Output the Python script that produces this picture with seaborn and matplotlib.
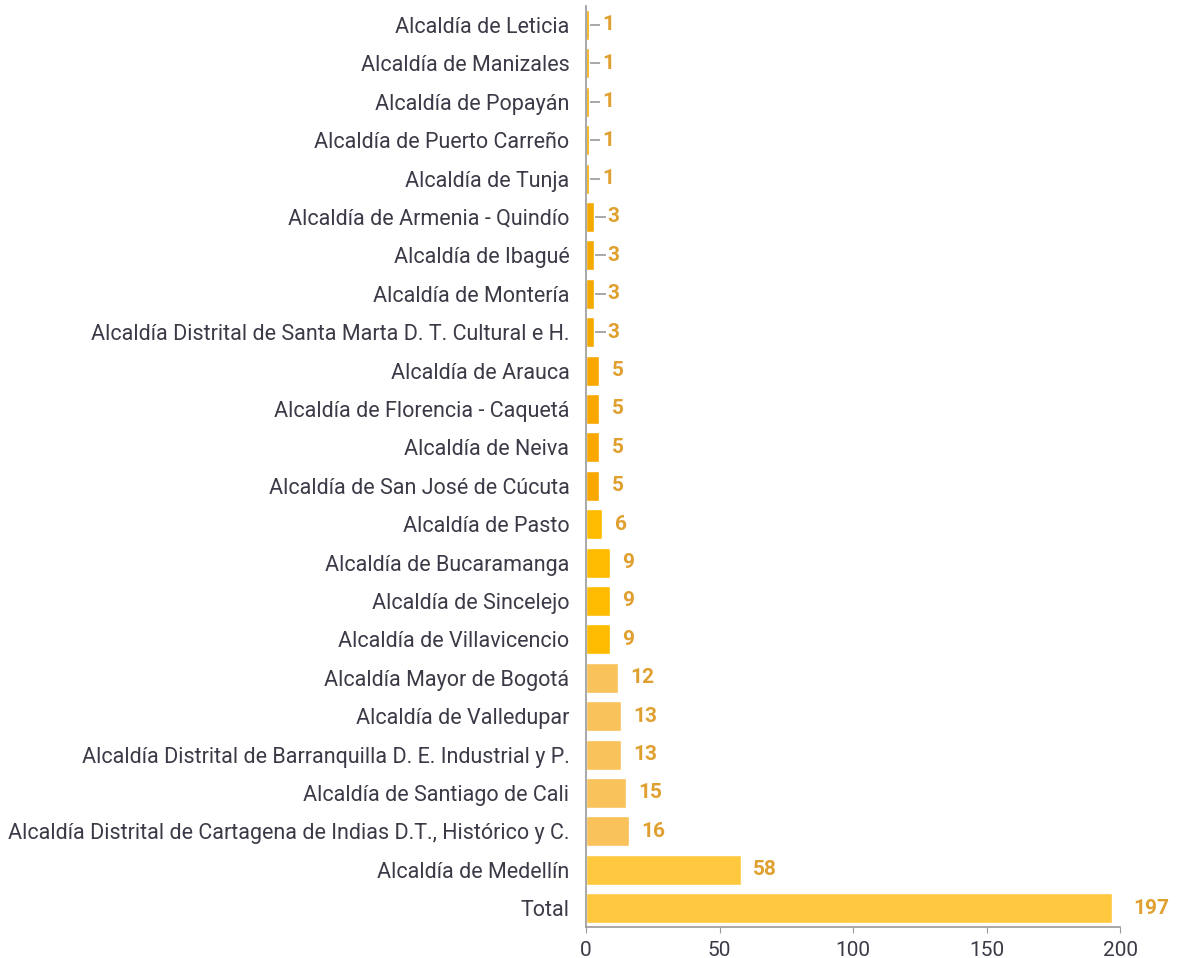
import numpy as np
import pandas as pd
import matplotlib
matplotlib.use("Agg")
import matplotlib.pyplot as plt
import seaborn as sns

# =========================
# DATA
# =========================
entities = [
    "Alcaldía de Leticia",
    "Alcaldía de Manizales",
    "Alcaldía de Popayán",
    "Alcaldía de Puerto Carreño",
    "Alcaldía de Tunja",
    "Alcaldía de Armenia - Quindío",
    "Alcaldía de Ibagué",
    "Alcaldía de Montería",
    "Alcaldía Distrital de Santa Marta D. T. Cultural e H.",
    "Alcaldía de Arauca",
    "Alcaldía de Florencia - Caquetá",
    "Alcaldía de Neiva",
    "Alcaldía de San José de Cúcuta",
    "Alcaldía de Pasto",
    "Alcaldía de Bucaramanga",
    "Alcaldía de Sincelejo",
    "Alcaldía de Villavicencio",
    "Alcaldía Mayor de Bogotá",
    "Alcaldía de Valledupar",
    "Alcaldía Distrital de Barranquilla D. E. Industrial y P.",
    "Alcaldía de Santiago de Cali",
    "Alcaldía Distrital de Cartagena de Indias D.T., Histórico y C.",
    "Alcaldía de Medellín",
    "Total",
]
counts = [1, 1, 1, 1, 1, 3, 3, 3, 3, 5, 5, 5, 5, 6, 9, 9, 9, 12, 13, 13, 15, 16, 58, 197]

# colour groups by value band
band_colors = {
    "1-3": "#F4A900",
    "5": "#FAA700",
    "6-9": "#FFBB00",
    "12-16": "#F9C25B",
    "big": "#FFC83F",
}

def band(v):
    if v <= 3:
        return "1-3"
    if v == 5:
        return "5"
    if v <= 9:
        return "6-9"
    if v <= 16:
        return "12-16"
    return "big"

df = pd.DataFrame({"entity": entities, "count": counts})
df["band"] = df["count"].apply(band)

TEXT_COLOR = "#3b3b48"
VALUE_COLOR = "#E0A030"
AXIS_COLOR = "#9a9a9a"

sns.set_style("white")
plt.rcParams["font.family"] = ["Roboto", "DejaVu Sans"]

fig = plt.figure(figsize=(11.78, 9.58), dpi=100)
ax = fig.add_axes([0.4975, 0.032, 0.4533, 0.962])

sns.barplot(data=df, y="entity", x="count", hue="band", palette=band_colors,
            dodge=False, legend=False, width=0.78, ax=ax, saturation=1)

ax.set_xlim(0, 200)
ax.set_ylim(len(entities) - 0.5, -0.5)
ax.set_xticks([0, 50, 100, 150, 200])
ax.set_xlabel("")
ax.set_ylabel("")

# value labels, with a short leader for the tiny bars
for i, v in enumerate(counts):
    if v <= 3:
        ax.hlines(i, v + 0.3, v + 4.3, color=AXIS_COLOR, linewidth=1.2)
        ax.text(v + 5.0, i, str(v), va="center", ha="left", fontsize=15,
                fontweight="bold", color=VALUE_COLOR)
    else:
        ax.annotate(str(v), (v, i), xytext=(9 if v < 100 else 15, 0),
                    textcoords="offset points", va="center", ha="left",
                    fontsize=15, fontweight="bold", color=VALUE_COLOR)

for side in ["top", "right"]:
    ax.spines[side].set_visible(False)
for side in ["left", "bottom"]:
    ax.spines[side].set_color(AXIS_COLOR)
    ax.spines[side].set_linewidth(1.2)

ax.tick_params(axis="y", length=0, pad=12, labelsize=15.5, labelcolor=TEXT_COLOR)
ax.tick_params(axis="x", length=4, color=AXIS_COLOR, pad=6, labelsize=15,
               labelcolor=TEXT_COLOR, bottom=True)

fig.savefig("out.png", dpi=100)
